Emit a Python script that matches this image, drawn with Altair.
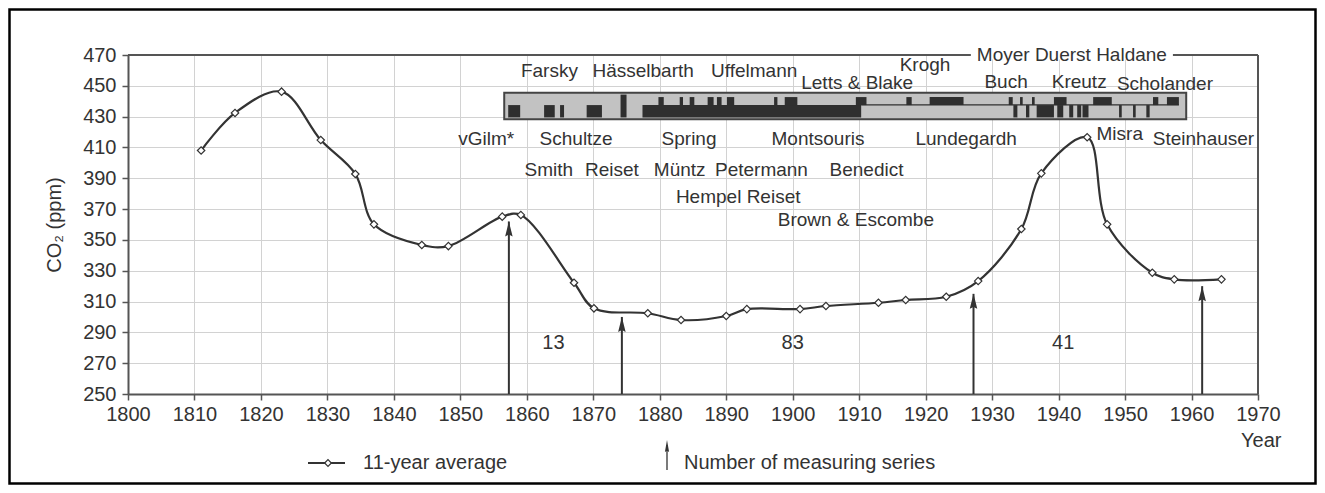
import altair as alt
import pandas as pd

# ---- data ----
avg_years = [1811.0, 1816.1, 1823.1, 1829.0, 1834.2, 1837.0, 1844.2, 1848.2, 1856.3, 1859.1,
             1867.1, 1870.1, 1878.2, 1883.2, 1890.0, 1893.1, 1901.1, 1905.0, 1912.9, 1917.0,
             1923.1, 1927.9, 1934.4, 1937.4, 1944.3, 1947.3, 1954.1, 1957.4, 1964.5]
avg_co2 = [408.0, 432.4, 446.2, 414.8, 392.8, 360.1, 346.7, 346.0, 365.1, 366.2,
           322.2, 305.6, 302.4, 298.0, 300.6, 305.1, 305.1, 307.1, 309.2, 311.0,
           313.1, 323.3, 357.1, 393.2, 416.6, 360.1, 328.7, 324.4, 324.4]

arrow_years = [1857.3, 1874.3, 1927.2, 1961.6]
arrow_tips = [362, 300, 315, 320]

count_text = ["13", "83", "41"]
count_years = [1864.0, 1900.0, 1940.7]
count_co2 = [283, 283, 283]

names = ["Farsky", "Hässelbarth", "Uffelmann", "Letts & Blake", "Krogh", "Buch", "Kreutz",
         "Scholander", "vGilm*", "Schultze", "Spring", "Montsouris", "Lundegardh", "Misra",
         "Steinhauser", "Smith", "Reiset", "Müntz", "Petermann", "Benedict", "Hempel Reiset",
         "Brown & Escombe"]
name_years = [1863.4, 1877.5, 1894.2, 1909.7, 1919.9, 1932.1, 1943.1,
              1956.0, 1853.9, 1867.4, 1884.4, 1903.8, 1926.1, 1949.2,
              1961.8, 1863.3, 1872.8, 1883.0, 1895.3, 1911.1, 1891.8,
              1909.5]
name_co2 = [459.8, 459.8, 459.8, 452.0, 463.5, 452.7, 452.7,
            451.2, 415.3, 415.3, 415.3, 415.3, 415.3, 418.7,
            415.3, 395.4, 395.4, 395.4, 395.4, 395.4, 378.0,
            363.0]

top_name = ["Moyer Duerst Haldane"]
top_name_year = [1942.0]
top_name_co2 = [470.0]
top_name_box = [1926.8, 1957.2]

strip_years = [1856.6, 1959.2]
strip_co2 = [428.3, 445.5]

lower_start = [1857.2, 1862.6, 1865.0, 1869.0, 1877.4, 1933.2, 1935.1, 1936.7, 1939.8,
               1941.6, 1942.8, 1943.6, 1949.1, 1951.2, 1953.2]
lower_end = [1859.0, 1864.2, 1865.6, 1871.3, 1910.3, 1933.8, 1935.6, 1939.3, 1940.7,
             1942.2, 1943.4, 1944.5, 1949.5, 1951.6, 1953.7]
upper_start = [1879.8, 1883.0, 1884.5, 1887.2, 1888.6, 1890.1, 1897.2, 1898.8, 1909.5,
               1917.1, 1920.6, 1932.5, 1934.2, 1936.0, 1939.3, 1945.2, 1954.2, 1956.3]
upper_end = [1880.6, 1883.5, 1885.2, 1888.1, 1889.3, 1891.2, 1897.7, 1900.7, 1911.1,
             1917.9, 1925.7, 1933.1, 1934.6, 1936.4, 1941.2, 1948.0, 1955.0, 1958.1]
tall_start = [1874.1]
tall_end = [1875.0]
mid_start = [1910.3]
mid_end = [1958.1]

lower_band = [429.5, 437.5]
upper_band = [437.5, 442.7]
tall_band = [429.5, 444.3]
mid_band = [437.2, 438.0]

x_ticks = list(range(1800, 1971, 10))
y_ticks = list(range(250, 471, 20))

FONT = "Liberation Sans"
INK = "#333333"
XT = "Year"
YT = "CO₂ (ppm)"

# ---- tables ----
avg_df = pd.DataFrame({"year": avg_years, "ppm": avg_co2})
arrow_df = pd.DataFrame({"year": arrow_years, "ppm": [250] * len(arrow_years), "ppm2": arrow_tips})
count_df = pd.DataFrame({"year": count_years, "ppm": count_co2, "label": count_text})
name_df = pd.DataFrame({"year": name_years, "ppm": name_co2, "label": names})
top_df = pd.DataFrame({"year": top_name_year, "ppm": top_name_co2, "label": top_name})
top_box_df = pd.DataFrame({"year": [top_name_box[0]], "year2": [top_name_box[1]],
                           "ppm": [467.0], "ppm2": [473.0]})
strip_df = pd.DataFrame({"year": [strip_years[0]], "year2": [strip_years[1]],
                         "ppm": [strip_co2[0]], "ppm2": [strip_co2[1]]})


def bars(starts, ends, band):
    return pd.DataFrame({"year": starts, "year2": ends,
                         "ppm": [band[0]] * len(starts), "ppm2": [band[1]] * len(starts)})


bars_df = pd.concat([bars(lower_start, lower_end, lower_band),
                     bars(upper_start, upper_end, upper_band),
                     bars(tall_start, tall_end, tall_band),
                     bars(mid_start, mid_end, mid_band)], ignore_index=True)

one = pd.DataFrame({"a": [0]})

X = lambda f="year:Q": alt.X(f, title=XT)
Y = lambda f="ppm:Q": alt.Y(f, title=YT)

# ---- layers ----
line = alt.Chart(avg_df).mark_line(interpolate="catmull-rom", color=INK, strokeWidth=2.2).encode(
    x=alt.X("year:Q", title=XT,
            scale=alt.Scale(domain=[1800, 1970], nice=False, zero=False),
            axis=alt.Axis(values=x_ticks, tickCount=40, format="d", grid=True, tickSize=6,
                          labelOverlap=False, labelFlush=False,
                          labelPadding=4, titleX=1153, titleY=46, titleAlign="right",
                          titleBaseline="middle", titleAngle=0)),
    y=alt.Y("ppm:Q", title=YT,
            scale=alt.Scale(domain=[250, 470], nice=False, zero=False),
            axis=alt.Axis(values=y_ticks, tickCount=40, format="d", grid=True, tickSize=6,
                          labelOverlap=False, labelFlush=False,
                          labelPadding=6, titlePadding=18)),
)

points = alt.Chart(avg_df).mark_point(shape="diamond", filled=True, fill="white", stroke=INK,
                                      strokeWidth=1.2, size=55, opacity=1).encode(x=X(), y=Y())

frame = alt.Chart(one).mark_rect(fillOpacity=0, stroke="black", strokeWidth=2.5).encode(
    x=alt.value(-118.5), x2=alt.value(1187.5), y=alt.value(-45.5), y2=alt.value(428.5))

top_border = alt.Chart(one).mark_rule(color="#555555", strokeWidth=2).encode(
    x=alt.value(0), x2=alt.value(1130), y=alt.value(0))
right_border = alt.Chart(one).mark_rule(color="#555555", strokeWidth=2).encode(
    x=alt.value(1130), y=alt.value(0), y2=alt.value(339))

strip = alt.Chart(strip_df).mark_rect(fill="#c2c2c2", stroke="#444444", strokeWidth=2).encode(
    x=X(), x2="year2", y=Y(), y2="ppm2")
strip_bars = alt.Chart(bars_df).mark_rect(fill="#2f2f2f").encode(
    x=X(), x2="year2", y=Y(), y2="ppm2")

arrow_rules = alt.Chart(arrow_df).mark_rule(color=INK, strokeWidth=2).encode(
    x=X(), y=Y(), y2="ppm2")
arrow_heads = alt.Chart(arrow_df).mark_point(
    shape="M0,-1L0.5,1L0,0.75L-0.5,1Z", filled=True, color=INK, size=225, opacity=1,
    yOffset=7.5).encode(x=X(), y=Y("ppm2:Q"))

top_box = alt.Chart(top_box_df).mark_rect(fill="white").encode(
    x=X(), x2="year2", y=Y(), y2="ppm2")
top_text = alt.Chart(top_df).mark_text(font=FONT, fontSize=19, color=INK, align="center",
                                       baseline="middle").encode(x=X(), y=Y(), text="label:N")

name_text = alt.Chart(name_df).mark_text(font=FONT, fontSize=19, color=INK, align="center",
                                         baseline="middle").encode(x=X(), y=Y(), text="label:N")
count_txt = alt.Chart(count_df).mark_text(font=FONT, fontSize=20, color=INK, align="center",
                                          baseline="middle").encode(x=X(), y=Y(), text="label:N")

# legend (decoration, placed in pixels below the plot)
leg_line = alt.Chart(one).mark_rule(color=INK, strokeWidth=2.2).encode(
    x=alt.value(180), x2=alt.value(217), y=alt.value(408))
leg_point = alt.Chart(one).mark_point(shape="diamond", filled=True, fill="white", stroke=INK,
                                      strokeWidth=1.2, size=45, opacity=1).encode(
    x=alt.value(200), y=alt.value(408))
leg_text1 = alt.Chart(one).mark_text(font=FONT, fontSize=20, color=INK, align="left",
                                     baseline="middle").encode(
    x=alt.value(235), y=alt.value(408), text=alt.value("11-year average"))
leg_arrow = alt.Chart(one).mark_rule(color=INK, strokeWidth=1.3).encode(
    x=alt.value(539), y=alt.value(390), y2=alt.value(415))
leg_head = alt.Chart(one).mark_point(shape="M0,-1L0.35,1L0,0.8L-0.35,1Z", filled=True,
                                     color=INK, size=144, opacity=1).encode(
    x=alt.value(539), y=alt.value(391))
leg_text2 = alt.Chart(one).mark_text(font=FONT, fontSize=20, color=INK, align="left",
                                     baseline="middle").encode(
    x=alt.value(556), y=alt.value(408), text=alt.value("Number of measuring series"))

chart = alt.layer(
    line, frame, top_border, right_border, strip, strip_bars, arrow_rules, points, arrow_heads,
    top_box, top_text, name_text, count_txt,
    leg_line, leg_point, leg_text1, leg_arrow, leg_head, leg_text2,
).properties(
    width=1130, height=339,
    autosize=alt.AutoSizeParams(type="none"),
    padding={"left": 120, "top": 47, "right": 59, "bottom": 91},
    background="white",
).configure_view(stroke="transparent").configure_axis(
    gridColor="#d2d2d2", gridWidth=1, domainColor="#555555", domainWidth=2,
    tickColor="#555555", tickWidth=1.5, labelFont=FONT, labelFontSize=20, labelColor=INK,
    titleFont=FONT, titleFontSize=20, titleColor=INK, titleFontWeight="normal",
    labelOverlap=False, labelFlush=False,
)

chart.save("out.html", embed_options={"renderer": "svg", "actions": False})
